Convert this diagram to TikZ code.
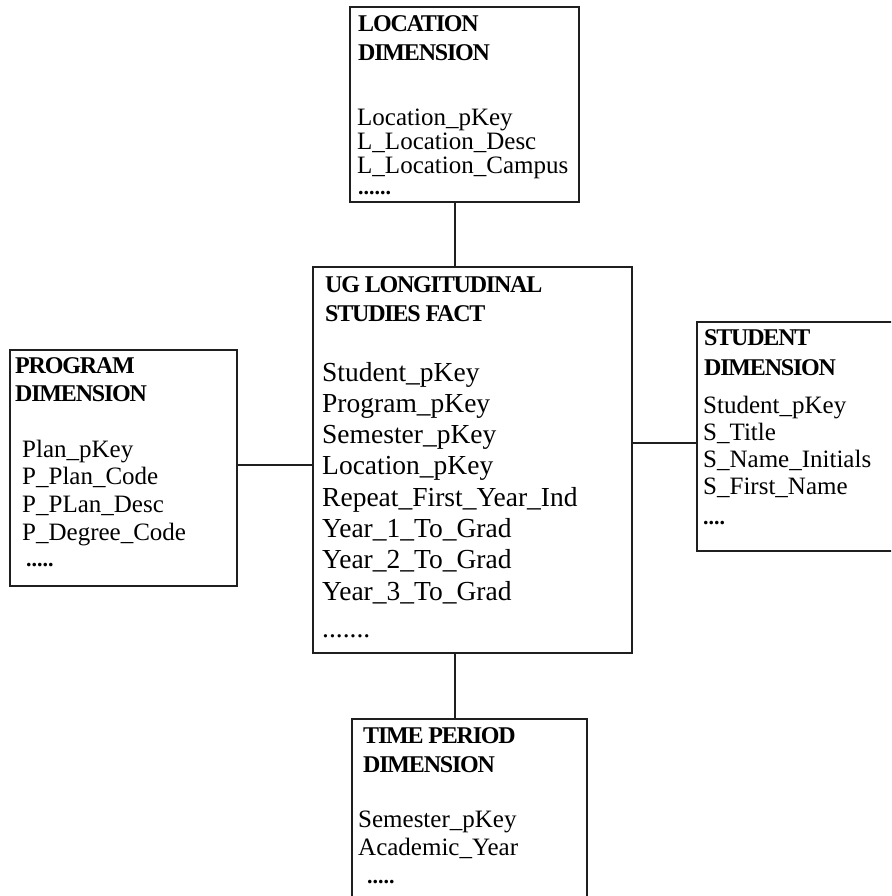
\documentclass[tikz,border=0pt]{standalone}
\usepackage{fontspec}
\setmainfont{Liberation Serif}
\begin{document}
\begin{tikzpicture}[x=1pt,y=-1pt,
  box/.style={draw=black!88, line width=1.6pt, inner sep=0pt, outer sep=0pt, anchor=north west},
  link/.style={draw=black!88, line width=1.4pt},
  head/.style={anchor=base west, inner sep=0pt,
    font=\bfseries\fontsize{24}{26}\selectfont\addfontfeature{LetterSpace=-5}},
  more/.style={anchor=base west, inner sep=0pt, font=\bfseries\fontsize{22}{26}\selectfont},
  body/.style={anchor=base west, inner sep=0pt, font=\fontsize{25}{28}\selectfont},
  bigbody/.style={anchor=base west, inner sep=0pt, font=\fontsize{27.5}{31}\selectfont},
]
\useasboundingbox (0,0) rectangle (891,896);
\clip (0,0) rectangle (891,896);
\fill[white] (0,0) rectangle (891,896);

% table boxes
\node[box, minimum width=229pt, minimum height=195pt] (loc)  at (350,7)   {};
\node[box, minimum width=319pt, minimum height=386pt] (fact) at (313,267) {};
\node[box, minimum width=227pt, minimum height=236pt] (prog) at (10,350)  {};
\node[box, minimum width=215pt, minimum height=229pt] (stud) at (697,322) {};
\node[box, minimum width=235pt, minimum height=200pt] (time) at (352,719) {};

% connector guides
\coordinate (vx) at (455,0);
\coordinate (hl) at (0,465);
\coordinate (hr) at (0,443);

\draw[link] (loc.south -| vx) -- (fact.north -| vx);
\draw[link] (fact.south -| vx) -- (time.north -| vx);
\draw[link] (prog.east |- hl) -- (fact.west |- hl);
\draw[link] (fact.east |- hr) -- (stud.west |- hr);

% location dimension
\node[head] (loc-h1) at (358,32) {LOCATION};
\node[head] (loc-h2) at (358,61) {DIMENSION};
\foreach \t [count=\i from 0] in {Location\_pKey, L\_Location\_Desc, L\_Location\_Campus}
  \node[body] (loc-f\i) at (357,{126+24*\i}) {\t};
\node[more] (loc-more) at (358,194) {......};

% fact table
\node[head] (fact-h1) at (325,292) {UG LONGITUDINAL};
\node[head] (fact-h2) at (325,321) {STUDIES FACT};
\foreach \t [count=\i from 0] in {Student\_pKey, Program\_pKey, Semester\_pKey, Location\_pKey,
    Repeat\_First\_Year\_Ind, Year\_1\_To\_Grad, Year\_2\_To\_Grad, Year\_3\_To\_Grad}
  \node[bigbody] (fact-f\i) at (322,{381+31.3*\i}) {\t};
\node[bigbody] (fact-more) at (322,637) {.......};

% program dimension
\node[head] (prog-h1) at (15,373) {PROGRAM};
\node[head] (prog-h2) at (15,401) {DIMENSION};
\foreach \t [count=\i from 0] in {Plan\_pKey, P\_Plan\_Code, P\_PLan\_Desc, P\_Degree\_Code}
  \node[body] (prog-f\i) at (22,{457+27.7*\i}) {\t};
\node[more] (prog-more) at (26,566) {.....};

% student dimension
\node[head] (stud-h1) at (704,345) {STUDENT};
\node[head] (stud-h2) at (704,375) {DIMENSION};
\foreach \t [count=\i from 0] in {Student\_pKey, S\_Title, S\_Name\_Initials, S\_First\_Name}
  \node[body] (stud-f\i) at (703,{413+27.3*\i}) {\t};
\node[more] (stud-more) at (703,524) {....};

% time period dimension
\node[head] (time-h1) at (363,743) {TIME PERIOD};
\node[head] (time-h2) at (363,772) {DIMENSION};
\foreach \t [count=\i from 0] in {Semester\_pKey, Academic\_Year}
  \node[body] (time-f\i) at (358,{827+28*\i}) {\t};
\node[more] (time-more) at (367,883) {.....};
\end{tikzpicture}
\end{document}
